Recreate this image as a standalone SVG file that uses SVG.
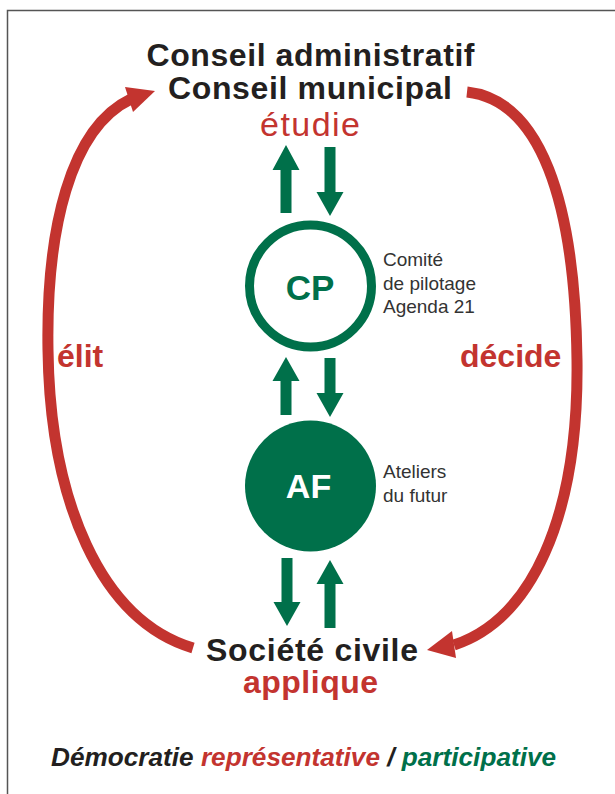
<svg xmlns="http://www.w3.org/2000/svg" width="615" height="794" viewBox="0 0 615 794">
<style>
.t{font-family:"Liberation Sans",Arial,Helvetica,sans-serif}
.dark{fill:#231f20}
.red{fill:#c3342f}
.grn{fill:#00704a}
.big{font-size:32px;font-weight:bold}
.lbl{font-size:32px;font-weight:bold;fill:#c3342f}
.small{font-size:19px;fill:#333333}
.arc{fill:none;stroke:#c3342f;stroke-width:11;stroke-linecap:butt}
.ga{fill:#00704a}
</style>
<rect x="0" y="0" width="615" height="794" fill="#ffffff"/>
<rect x="7.5" y="10.5" width="700" height="900" fill="none" stroke="#555555" stroke-width="1.5"/>

<g id="conseil">
<text class="t big dark" x="310.5" y="66" text-anchor="middle" textLength="328" lengthAdjust="spacing">Conseil administratif</text>
<text class="t big dark" x="310" y="99" text-anchor="middle" textLength="284" lengthAdjust="spacing">Conseil municipal</text>
<text class="t red" x="310" y="136" text-anchor="middle" font-size="34" textLength="100" lengthAdjust="spacing">étudie</text>
</g>

<g id="cp">
<circle cx="310.5" cy="286" r="61" fill="none" stroke="#00704a" stroke-width="9"/>
<text class="t grn" x="310" y="300" text-anchor="middle" font-size="35" font-weight="bold">CP</text>
<text class="t small" x="383" y="266">Comité</text>
<text class="t small" x="383" y="290">de pilotage</text>
<text class="t small" x="383" y="313">Agenda 21</text>
</g>

<g id="af">
<circle cx="310.5" cy="486" r="65.5" fill="#00704a"/>
<text class="t" x="308.5" y="498" text-anchor="middle" font-size="34" font-weight="bold" fill="#ffffff">AF</text>
<text class="t small" x="383" y="478">Ateliers</text>
<text class="t small" x="383" y="502">du futur</text>
</g>

<g id="societe">
<text class="t big dark" x="312" y="661" text-anchor="middle" textLength="212" lengthAdjust="spacing">Société civile</text>
<text class="t lbl" x="310.5" y="693" text-anchor="middle" textLength="135" lengthAdjust="spacing">applique</text>
</g>

<g id="connectors">
<path class="arc" d="M193,648 C100,620 50,500 48,350 C46,230 70,128 131,99"/>
<polygon class="red" points="155,91 125,87 133,112"/>
<path class="arc" d="M467,92 C540,100 575,200 577,360 C579,520 530,620 454,645"/>
<polygon class="red" points="427,650 452,631 456,658"/>

<polygon class="ga" points="280.5,213 280.5,170 272.5,170 286,145 299.5,170 291.5,170 291.5,213"/>
<polygon class="ga" points="324.5,147 335.5,147 335.5,192 343.5,192 330,216 316.5,192 324.5,192"/>

<polygon class="ga" points="280.5,415 280.5,381 272.5,381 286,357 299.5,381 291.5,381 291.5,415"/>
<polygon class="ga" points="324.5,358 335.5,358 335.5,393 343.5,393 330,417 316.5,393 324.5,393"/>

<polygon class="ga" points="281.5,558 292.5,558 292.5,602 300.5,602 287,626 273.5,602 281.5,602"/>
<polygon class="ga" points="324.5,628 324.5,584 316.5,584 330,560 343.5,584 335.5,584 335.5,628"/>
</g>

<g id="labels">
<text class="t lbl" x="57" y="367">élit</text>
<text class="t lbl" x="460" y="367">décide</text>
</g>

<g id="footer">
<text class="t" x="51" y="766" font-size="26.2" font-weight="bold" font-style="italic"><tspan class="dark">Démocratie </tspan><tspan class="red">représentative</tspan><tspan class="dark"> / </tspan><tspan class="grn">participative</tspan></text>
</g>
</svg>
